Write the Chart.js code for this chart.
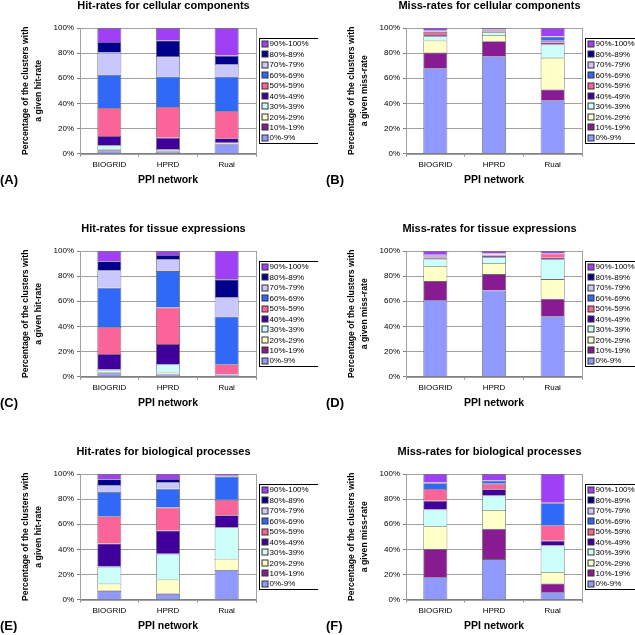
<!DOCTYPE html>
<html>
<head>
<meta charset="utf-8">
<script src="https://cdn.jsdelivr.net/npm/chart.js@4.4.1/dist/chart.umd.min.js"></script>
<style>
  html, body { margin: 0; padding: 0; background: #fff; }
  body { width: 635px; height: 635px; overflow: hidden; position: relative; }
  canvas { position: absolute; }
</style>
</head>
<body>
<canvas id="pA" width="318" height="222" style="left:0px;top:0px"></canvas>
<canvas id="pB" width="318" height="222" style="left:326px;top:0px"></canvas>
<canvas id="pC" width="318" height="222" style="left:0px;top:223px"></canvas>
<canvas id="pD" width="318" height="222" style="left:326px;top:223px"></canvas>
<canvas id="pE" width="318" height="222" style="left:0px;top:446px"></canvas>
<canvas id="pF" width="318" height="222" style="left:326px;top:446px"></canvas>
<script>
const networks = ["BIOGRID", "HPRD", "Rual"];
const rateBins = ["0%-9%", "10%-19%", "20%-29%", "30%-39%", "40%-49%",
                  "50%-59%", "60%-69%", "70%-79%", "80%-89%", "90%-100%"];
const binColors = ["#8f99ff", "#881a92", "#ffffc8", "#ccfffa", "#40009c",
                   "#fa6499", "#3068f8", "#c8c8ff", "#00008c", "#a040f6"];

// percentages per bin (0%-9% ... 90%-100%)
// (A) hit-rates, cellular components
const hitCellBiogrid = [2.5, 0.5, 0.5, 3, 7.5, 22.3, 26.3, 17.8, 8.5, 11.1];
const hitCellHprd    = [1.5, 0.5, 0.5, 1, 9, 24.5, 24.4, 16.2, 12.4, 10];
const hitCellRual    = [7.4, 0, 0.3, 0.8, 3.7, 21.7, 27.4, 10.1, 6.6, 22];
// (B) miss-rates, cellular components
const missCellBiogrid = [67.9, 12.5, 9.6, 3.4, 1, 2.5, 0.3, 0.3, 0.5, 2];
const missCellHprd    = [77.5, 11.9, 5.1, 2.1, 0.5, 0.5, 0, 0.5, 0.8, 1.1];
const missCellRual    = [42.4, 8.6, 25.4, 10.4, 1.4, 1.6, 3.0, 0.4, 0.2, 6.6];
// (C) hit-rates, tissue expressions
const hitTisBiogrid = [2.5, 0.5, 0.5, 2, 12.5, 21.5, 31.3, 13.8, 7.2, 8.2];
const hitTisHprd    = [1.5, 0.5, 1.2, 6.4, 16.2, 29.2, 29, 9.6, 3.2, 3.2];
const hitTisRual    = [1.5, 0, 0, 0, 0.3, 8, 38.1, 15.4, 14.1, 22.6];
// (D) miss-rates, tissue expressions
const missTisBiogrid = [60.9, 15.1, 12, 5.9, 0.8, 1, 0.3, 0.8, 0.3, 2.9];
const missTisHprd    = [68.6, 13, 8.8, 4.6, 1.3, 0.7, 0.2, 0.8, 0.3, 1.7];
const missTisRual    = [48.1, 13.9, 15.6, 15.8, 1.3, 3.3, 0, 0, 0, 2];
// (E) hit-rates, biological processes
const hitBioBiogrid = [6.8, 0.3, 5.6, 13.5, 18.5, 21.6, 19.4, 5.6, 4.5, 4.2];
const hitBioHprd    = [4.5, 0.4, 11, 20.6, 18.5, 18.3, 15, 5.3, 2.4, 4];
const hitBioRual    = [23.5, 0, 9, 25.1, 9.6, 12.2, 18.7, 0.3, 0.3, 1.3];
// (F) miss-rates, biological processes
const missBioBiogrid = [17.9, 22.3, 18.2, 13.3, 6.9, 9.5, 4.5, 0.8, 0, 6.6];
const missBioHprd    = [32.2, 24.1, 15.1, 11.6, 4.8, 4.5, 2.5, 0.4, 0, 4.8];
const missBioRual    = [6, 6.7, 9.2, 21.2, 3.7, 12.4, 17.5, 0, 0.3, 23];

const hitTitle = ["Percentage of the clusters with", "a given hit-rate"];
const missTitle = ["Percentage of the clusters with", "a given miss-rate"];

const panels = [
  { id: "pA", tag: "(A)", title: "Hit-rates for cellular components", yTitle: hitTitle,
    rows: [hitCellBiogrid, hitCellHprd, hitCellRual] },
  { id: "pB", tag: "(B)", title: "Miss-rates for cellular components", yTitle: missTitle,
    rows: [missCellBiogrid, missCellHprd, missCellRual] },
  { id: "pC", tag: "(C)", title: "Hit-rates for tissue expressions", yTitle: hitTitle,
    rows: [hitTisBiogrid, hitTisHprd, hitTisRual] },
  { id: "pD", tag: "(D)", title: "Miss-rates for tissue expressions", yTitle: missTitle,
    rows: [missTisBiogrid, missTisHprd, missTisRual] },
  { id: "pE", tag: "(E)", title: "Hit-rates for biological processes", yTitle: hitTitle,
    rows: [hitBioBiogrid, hitBioHprd, hitBioRual] },
  { id: "pF", tag: "(F)", title: "Miss-rates for biological processes", yTitle: missTitle,
    rows: [missBioBiogrid, missBioHprd, missBioRual] }
];

const FONT = '"Liberation Sans", Arial, sans-serif';
Chart.defaults.font.family = FONT;
Chart.defaults.color = "#000";

// plot frame, title, panel tag and boxed legend (Excel style)
const panelDecor = {
  id: "panelDecor",
  beforeDatasetsDraw(chart) {
    const { ctx, chartArea: a } = chart;
    ctx.save();
    ctx.strokeStyle = "#a0a0a0";
    ctx.lineWidth = 1;
    ctx.strokeRect(Math.round(a.left) + 0.5, Math.round(a.top) + 0.5,
                   Math.round(a.right - a.left), Math.round(a.bottom - a.top));
    ctx.restore();
  },
  afterDraw(chart, args, opts) {
    const { ctx, chartArea: a } = chart;
    ctx.save();
    ctx.fillStyle = "#000";
    ctx.textBaseline = "middle";

    ctx.font = "bold 11px " + FONT;
    ctx.textAlign = "center";
    ctx.fillText(opts.title, (a.left + a.right) / 2 - 4.5, 5.5);

    ctx.font = "bold 13px " + FONT;
    ctx.textAlign = "left";
    ctx.fillText(opts.tag, 0, 180);

    // legend, top item is the highest bin
    const step = 10.44;
    const bx = Math.round(a.right) + 3.5;
    const mid = (a.top + a.bottom) / 2;
    const by = Math.round(mid - 52.5) + 0.5;
    ctx.fillStyle = "#fff";
    ctx.fillRect(bx, by, 59, 105);
    ctx.strokeStyle = "#000";
    ctx.lineWidth = 1;
    ctx.strokeRect(bx, by, 59, 105);
    ctx.font = "8px " + FONT;
    const ds = chart.data.datasets;
    for (let k = 0; k < ds.length; k++) {
      const d = ds[ds.length - 1 - k];
      const cy = mid - 4.5 * step + k * step;
      ctx.fillStyle = d.backgroundColor;
      ctx.fillRect(bx + 2.5, Math.round(cy - 3), 6, 6);
      ctx.strokeStyle = "#333";
      ctx.strokeRect(bx + 2.5, Math.round(cy - 3), 6, 6);
      ctx.fillStyle = "#000";
      ctx.fillText(d.label, bx + 10, cy + 0.5);
    }
    ctx.restore();
  }
};

panels.forEach(p => {
  const datasets = rateBins.map((bin, i) => ({
    label: bin,
    data: p.rows.map(r => r[i]),
    backgroundColor: binColors[i],
    borderColor: "#6a6a6a",
    borderWidth: 0.8,
    barPercentage: 0.41,
    categoryPercentage: 1
  }));

  new Chart(document.getElementById(p.id), {
    type: "bar",
    data: { labels: networks, datasets },
    plugins: [panelDecor],
    options: {
      responsive: false,
      animation: false,
      devicePixelRatio: 1,
      layout: { padding: { top: 28, right: 62, bottom: 34.5, left: 0 } },
      plugins: {
        legend: { display: false },
        title: { display: false },
        tooltip: { enabled: false },
        panelDecor: { title: p.title, tag: p.tag }
      },
      scales: {
        x: {
          stacked: true,
          afterFit: s => { s.height = 34; },
          grid: { drawOnChartArea: false, drawTicks: true, tickLength: 3, color: "#808080" },
          border: { color: "#808080" },
          ticks: { font: { size: 8 }, padding: 3, color: "#000" },
          title: {
            display: true, text: "PPI network", color: "#000",
            font: { size: 10.5, weight: "bold", lineHeight: 1.2 },
            padding: { top: 0, bottom: 1.2 }
          }
        },
        y: {
          stacked: true,
          min: 0,
          max: 100,
          afterFit: s => { s.width = 80; },
          grid: { color: "#a0a0a0", tickLength: 3, tickColor: "#808080" },
          border: { color: "#808080" },
          ticks: { stepSize: 10, font: { size: 8 }, padding: 3, color: "#000",
                   callback: v => v + "%" },
          title: {
            display: true, text: p.yTitle, color: "#000",
            font: { size: 8.7, weight: "bold", lineHeight: 1.4 },
            padding: { top: 20, bottom: 0 }
          }
        }
      }
    }
  });
});
</script>
</body>
</html>
